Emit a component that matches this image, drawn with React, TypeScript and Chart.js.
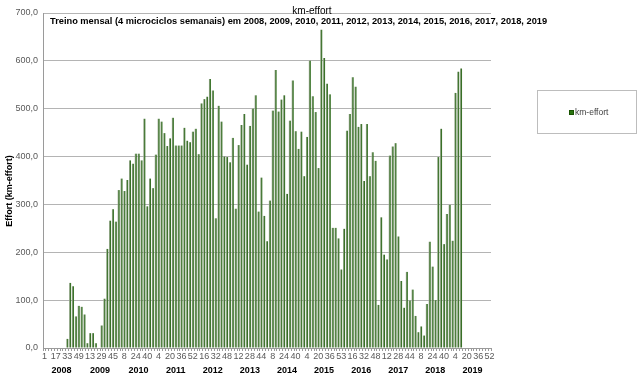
import React, { useEffect, useRef } from 'react';
import { Chart, registerables } from 'chart.js';

Chart.register(...registerables);

// Week number at which each 4-week block starts (category labels)
const weekLabels: string[] = [
  // 2008
  '1', '5', '9', '13', '17', '21', '25', '29', '33', '37', '41', '45', '49',
  // 2009
  '1', '5', '9', '13', '17', '21', '25', '29', '33', '37', '41', '45', '49', '53',
  // 2010
  '4', '8', '12', '16', '20', '24', '28', '32', '36', '40', '44', '48', '52',
  // 2011
  '4', '8', '12', '16', '20', '24', '28', '32', '36', '40', '44', '48', '52',
  // 2012
  '4', '8', '12', '16', '20', '24', '28', '32', '36', '40', '44', '48', '52',
  // 2013
  '4', '8', '12', '16', '20', '24', '28', '32', '36', '40', '44', '48', '52',
  // 2014
  '4', '8', '12', '16', '20', '24', '28', '32', '36', '40', '44', '48', '52',
  // 2015
  '4', '8', '12', '16', '20', '24', '28', '32', '36', '40', '44', '48', '53',
  // 2016
  '4', '8', '12', '16', '20', '24', '28', '32', '36', '40', '44', '48', '52',
  // 2017
  '4', '8', '12', '16', '20', '24', '28', '32', '36', '40', '44', '48', '52',
  // 2018
  '4', '8', '12', '16', '20', '24', '28', '32', '36', '40', '44', '48', '52',
  // 2019
  '4', '8', '12', '16', '20', '24', '28', '32', '36', '40', '44', '48', '52',
];

const yearNames: string[] = ['2008', '2009', '2010', '2011', '2012', '2013', '2014', '2015', '2016', '2017', '2018', '2019'];
const periodsPerYear: number[] = [13, 14, 13, 13, 13, 13, 13, 13, 13, 13, 13, 13];

const kmEffort: number[] = [
  // 2008
  0, 0, 0, 0, 0, 0, 0, 0, 19, 136, 129, 66, 88,
  // 2009
  86, 70, 10, 31, 31, 10, 0, 47, 103, 207, 266, 290, 264, 330,
  // 2010
  354, 328, 351, 392, 385, 406, 406, 392, 479, 296, 354, 334, 404,
  // 2011
  479, 473, 449, 422, 438, 481, 423, 423, 423, 460, 433, 430, 452,
  // 2012
  458, 405, 511, 520, 525, 562, 538, 271, 506, 473, 400, 399, 388,
  // 2013
  439, 291, 424, 466, 489, 383, 464, 500, 528, 285, 356, 276, 223,
  // 2014
  308, 496, 581, 494, 519, 528, 322, 475, 559, 453, 416, 452, 359,
  // 2015
  441, 600, 526, 493, 376, 665, 606, 552, 530, 251, 251, 229, 164,
  // 2016
  249, 454, 489, 566, 546, 462, 468, 349, 468, 359, 409, 391, 90,
  // 2017
  273, 195, 185, 402, 421, 428, 233, 140, 84, 159, 99, 122, 67,
  // 2018
  33, 45, 26, 92, 222, 170, 100, 399, 458, 217, 280, 299, 224,
  // 2019
  533, 577, 584, 0, 0, 0, 0, 0, 0, 0, 0, 0, 0,
];

const TITLE = 'km-effort';
const SUBTITLE = 'Treino mensal (4 microciclos semanais) em 2008, 2009, 2010, 2011, 2012, 2013, 2014, 2015, 2016, 2017, 2018, 2019';
const Y_TITLE = 'Effort (km-effort)';
const SERIES_NAME = 'km-effort';

const FONT = '"Liberation Sans", Arial, sans-serif';

const decorPlugin = {
  id: 'decor',
  afterDraw(chart: any) {
    const { ctx, scales } = chart;
    const x = scales.x;
    ctx.save();

    // chart title
    ctx.fillStyle = '#000000';
    ctx.textBaseline = 'middle';
    ctx.textAlign = 'center';
    ctx.font = `10px ${FONT}`;
    ctx.fillText(TITLE, 312, 11);

    // subtitle, sized to the reference width
    const subFamily = '"Liberation Sans Narrow", "Liberation Sans", Arial, sans-serif';
    ctx.font = `bold 10px ${subFamily}`;
    const w10 = ctx.measureText(SUBTITLE).width;
    const size = Math.min(10.5, (10 * 498) / w10);
    ctx.font = `bold ${size}px ${subFamily}`;
    ctx.textAlign = 'left';
    ctx.fillText(SUBTITLE, 50, 21);

    // y-axis title
    ctx.save();
    ctx.translate(10, 191);
    ctx.rotate(-Math.PI / 2);
    ctx.font = `bold 9px ${FONT}`;
    ctx.textAlign = 'center';
    ctx.fillText(Y_TITLE, 0, 0);
    ctx.restore();

    // year group labels
    ctx.font = `bold 9px ${FONT}`;
    ctx.textAlign = 'center';
    let start = 0;
    yearNames.forEach((name, i) => {
      const end = start + periodsPerYear[i] - 1;
      const cx = (x.getPixelForValue(start) + x.getPixelForValue(end)) / 2;
      ctx.fillText(name, cx, 371);
      start = end + 1;
    });

    // legend
    ctx.strokeStyle = '#bdbdbd';
    ctx.lineWidth = 1;
    ctx.strokeRect(537.5, 90.5, 99, 43);
    ctx.fillStyle = '#2a7410';
    ctx.fillRect(569, 110, 5, 5);
    ctx.strokeStyle = '#185200';
    ctx.strokeRect(569.5, 110.5, 4, 4);
    ctx.fillStyle = '#404040';
    ctx.font = `8.5px ${FONT}`;
    ctx.textAlign = 'left';
    ctx.fillText(SERIES_NAME, 575, 113);

    ctx.restore();
  },
};

export default function App() {
  const canvasRef = useRef<HTMLCanvasElement | null>(null);

  useEffect(() => {
    document.body.style.margin = '0';
    const canvas = canvasRef.current;
    if (!canvas) return;

    const chart = new Chart(canvas, {
      type: 'bar',
      data: {
        labels: weekLabels,
        datasets: [
          {
            label: SERIES_NAME,
            data: kmEffort,
            backgroundColor: (c: any) => {
              const ch = c.chart;
              const xs = ch.scales && ch.scales.x;
              if (!xs || !ch.chartArea || c.type !== 'data') return '#2e6f14';
              const px = xs.getPixelForValue(c.dataIndex);
              const g = ch.ctx.createLinearGradient(px - 1, 0, px + 1, 0);
              g.addColorStop(0, '#a8b5a0');
              g.addColorStop(0.45, '#5f8650');
              g.addColorStop(1, '#145c00');
              return g;
            },
            borderWidth: 0,
            barPercentage: 0.7,
            categoryPercentage: 1,
          },
        ],
      },
      plugins: [decorPlugin],
      options: {
        responsive: false,
        animation: false,
        devicePixelRatio: 1,
        layout: { padding: { left: 0, top: 13, right: 149, bottom: 0 } },
        plugins: {
          legend: { display: false },
          title: { display: false },
          tooltip: { enabled: false },
        },
        scales: {
          x: {
            type: 'category',
            offset: true,
            afterFit: (s: any) => {
              s.height = 35;
            },
            grid: {
              display: true,
              drawOnChartArea: false,
              drawTicks: true,
              tickLength: 3,
              color: '#9a9a9a',
              offset: true,
            },
            border: { display: true, color: '#9a9a9a' },
            ticks: {
              autoSkip: false,
              maxRotation: 0,
              minRotation: 0,
              padding: 0,
              color: '#595959',
              font: { size: 9, family: FONT },
              callback: (_v: any, i: number) => (i % 4 === 0 ? weekLabels[i] : ''),
            },
          },
          y: {
            min: 0,
            max: 700,
            afterFit: (s: any) => {
              s.width = 43;
            },
            grid: { color: '#b4b4b4', drawTicks: false },
            border: { display: true, color: '#9a9a9a' },
            ticks: {
              stepSize: 100,
              padding: 5,
              color: '#595959',
              font: { size: 9, family: FONT },
              callback: (v: any) => Number(v).toFixed(1).replace('.', ','),
            },
          },
        },
      },
    });

    return () => {
      chart.destroy();
    };
  }, []);

  return (
    <div style={{ position: 'fixed', left: 0, top: 0, width: 640, height: 383, background: '#ffffff' }}>
      <canvas ref={canvasRef} width={640} height={383} />
    </div>
  );
}
